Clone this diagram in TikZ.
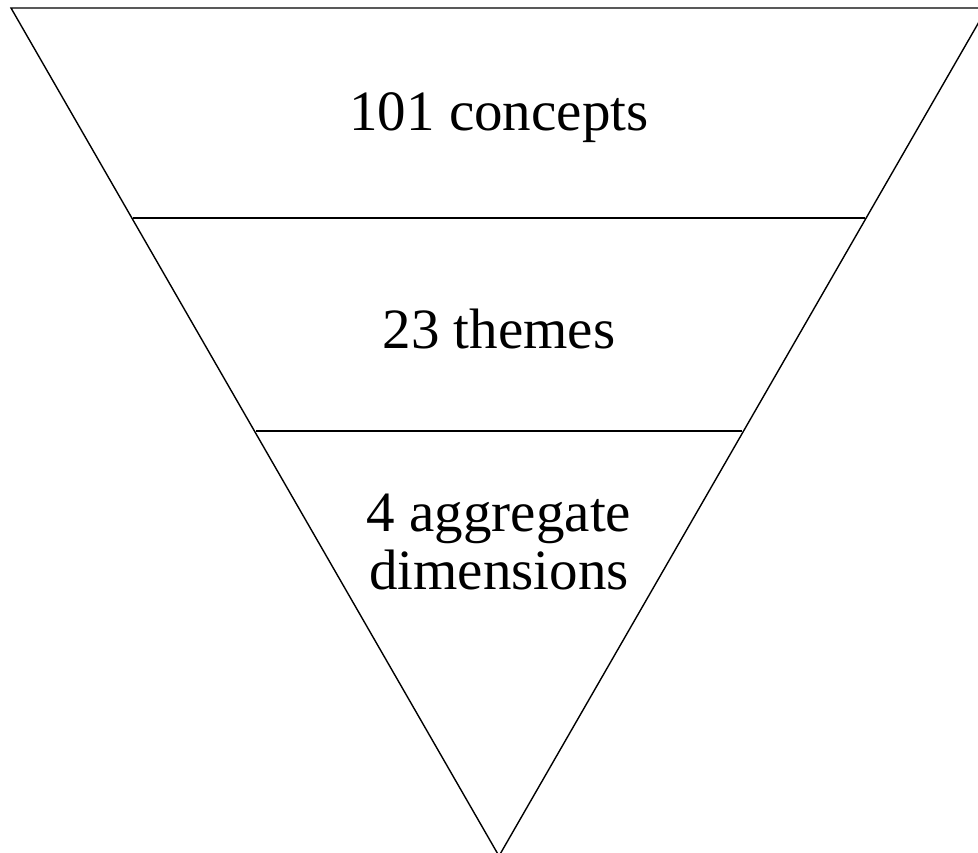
\documentclass[tikz,border=0pt]{standalone}
\usepackage{fontspec}
\setmainfont{Liberation Serif}
\begin{document}
\begin{tikzpicture}[x=1pt,y=-1pt,
  edge/.style={draw=black,line width=1.4pt},
  label/.style={font=\fontsize{57}{58}\selectfont,align=center,inner sep=0pt}]
\useasboundingbox (0,0) rectangle (978,853);
\clip (0,0) rectangle (978,853);
% inverted triangle funnel
\coordinate (tl) at (11,8);
\coordinate (tr) at (987,8);
\coordinate (ap) at (499,856);
\coordinate (l1) at (133,218);
\coordinate (r1) at (865,218);
\coordinate (l2) at (256,431);
\coordinate (r2) at (742,431);
\draw[edge,line join=miter] (tl) -- (tr) -- (ap) -- cycle;
\draw[edge] (l1) -- (r1);
\draw[edge] (l2) -- (r2);
% level labels
\node[label] (n1) at (499,118) {101 concepts};
\node[label] (n2) at (499,329) {23 themes};
\node[label] (n3) at (499,542) {4 aggregate\\dimensions};
\end{tikzpicture}
\end{document}
